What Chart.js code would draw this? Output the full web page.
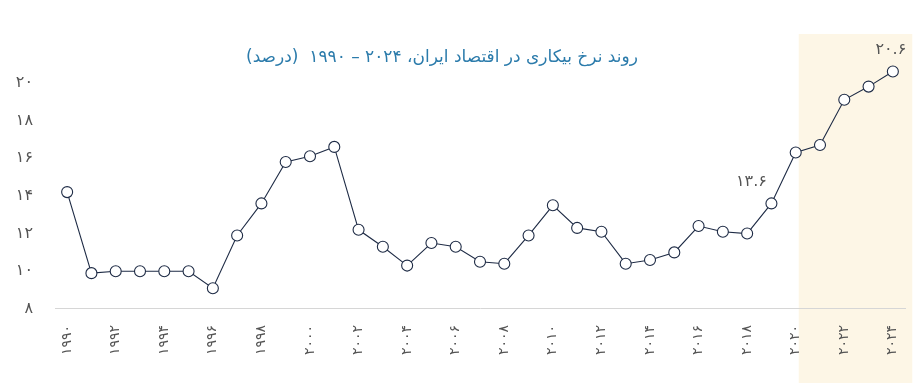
<!DOCTYPE html>
<html lang="fa">
<head>
<meta charset="UTF-8" />
<title>نرخ بیکاری ایران</title>
<script src="https://cdn.jsdelivr.net/npm/chart.js"></script>
<style>
  html, body { margin: 0; padding: 0; background: #fff; }
  #wrap { width: 919px; height: 383px; position: relative; }
</style>
</head>
<body>
<div id="wrap"><canvas id="chart"></canvas></div>
<script>
const years = [];
for (let y = 1990; y <= 2024; y++) years.push(y);

const rates = [14.2, 9.9, 10.0, 10.0, 10.0, 10.0, 9.1, 11.9, 13.6, 15.8,
               16.1, 16.6, 12.2, 11.3, 10.3, 11.5, 11.3, 10.5, 10.4, 11.9,
               13.5, 12.3, 12.1, 10.4, 10.6, 11.0, 12.4, 12.1, 12.0, 13.6,
               16.3, 16.7, 19.1, 19.8, 20.6];

const yTicks = [8, 10, 12, 14, 16, 18, 20];
const callouts = [{ year: 2019, text: '۱۳.۶', dx: -20, dy: -22 },
                  { year: 2024, text: '۲۰.۶', dx: -2, dy: -22 }];
const shadeFrom = 2020;
const shadeTo = 2024;

const title = 'روند نرخ بیکاری در اقتصاد ایران، ۲۰۲۴ – ۱۹۹۰  (درصد)';
const fa = n => String(n).replace(/\d/g, d => '۰۱۲۳۴۵۶۷۸۹'[d]);
const FONT = "'DejaVu Sans', 'Noto Sans', sans-serif";

// shaded band (behind everything) + title + callout labels
const extras = {
  id: 'extras',
  beforeDraw(chart) {
    const { ctx } = chart;
    const x = chart.scales.x;
    const step = x.getPixelForValue(1) - x.getPixelForValue(0);
    const left = x.getPixelForValue(years.indexOf(shadeFrom)) + 3;
    const right = x.getPixelForValue(years.indexOf(shadeTo)) + step * 0.8;
    ctx.save();
    ctx.fillStyle = '#fdf6e6';
    ctx.fillRect(left, 34, right - left, chart.height - 34);
    ctx.restore();
  },
  afterDraw(chart) {
    const { ctx } = chart;
    ctx.save();
    ctx.font = '17px ' + FONT;
    ctx.fillStyle = '#2b7bab';
    ctx.direction = 'rtl';
    ctx.textAlign = 'center';
    ctx.textBaseline = 'middle';
    ctx.fillText(title, 442, 58);

    const meta = chart.getDatasetMeta(0);
    ctx.font = '16px ' + FONT;
    ctx.fillStyle = '#555';
    ctx.direction = 'ltr';
    callouts.forEach(c => {
      const pt = meta.data[years.indexOf(c.year)];
      ctx.fillText(c.text, pt.x + c.dx, pt.y + c.dy);
    });
    ctx.restore();
  }
};

new Chart(document.getElementById('chart'), {
  type: 'line',
  data: {
    labels: years,
    datasets: [{
      data: rates,
      borderColor: '#1e2b45',
      borderWidth: 1.1,
      pointRadius: 5.5,
      pointBackgroundColor: '#fff',
      pointBorderColor: '#1e2b45',
      pointBorderWidth: 1.1,
      tension: 0,
      clip: false
    }]
  },
  options: {
    responsive: true,
    maintainAspectRatio: false,
    animation: false,
    layout: { padding: { top: 64, right: 14, left: 0, bottom: 20 } },
    plugins: { legend: { display: false }, tooltip: { enabled: false } },
    scales: {
      x: {
        offset: true,
        grid: { display: false },
        border: { color: '#d6d6d6', width: 1 },
        ticks: {
          autoSkip: false,
          maxRotation: 90,
          minRotation: 90,
          padding: 8,
          color: '#555',
          font: { size: 14, family: FONT },
          callback(v, i) { return years[i] % 2 === 0 ? fa(years[i]) : ''; }
        }
      },
      y: {
        min: 8,
        max: 21,
        afterBuildTicks(s) { s.ticks = yTicks.map(v => ({ value: v })); },
        grid: { display: false },
        border: { display: false },
        afterFit(s) { s.width = 55; },
        ticks: {
          padding: 14,
          color: '#555',
          font: { size: 16, family: FONT },
          callback: v => fa(v)
        }
      }
    }
  },
  plugins: [extras]
});
</script>
</body>
</html>
